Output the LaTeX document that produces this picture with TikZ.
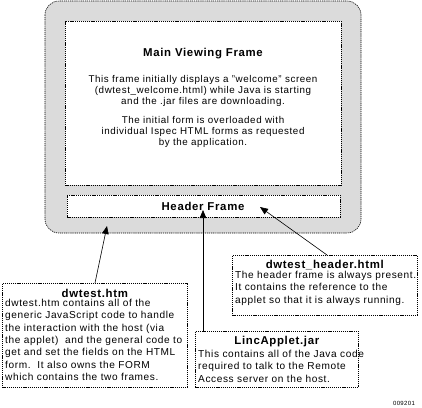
\documentclass[tikz,border=0pt]{standalone}
\usepackage{fontspec}
\setmainfont{Liberation Sans}[LetterSpace=6]
\usetikzlibrary{arrows.meta,calc}
\begin{document}
\begin{tikzpicture}[x=1pt,y=-1pt,
  dashb/.style={draw=black,line width=0.6pt,dash pattern=on 1.2pt off 0.9pt},
  boxn/.style={dashb,fill=white,rectangle,inner sep=0pt,anchor=north west},
  ttl/.style={font=\fontsize{11.4}{13}\selectfont\bfseries,inner sep=0pt},
  bodyn/.style={font=\fontsize{10.1}{12.3}\selectfont,inner sep=0pt,align=left,anchor=north west},
  mtext/.style={font=\fontsize{9.8}{11}\selectfont,inner sep=0pt,align=center},
  arr/.style={line width=0.6pt,-{Triangle[length=8pt,width=6.5pt]}}]
\useasboundingbox (0,0) rectangle (422,407);
% outer bezel
\draw[dashb,fill=gray!28,rounded corners=14pt] (45,1) rectangle (361,233);
\node[boxn,minimum width=276,minimum height=164] (main) at (65,21) {};
\node[boxn,minimum width=273,minimum height=22] (hdr) at (67,195) {};
\node[ttl] (mainT) at (203,54) {Main Viewing Frame};
\node[mtext] (mainB1) at (203,91) {This frame initially displays a "welcome" screen\\(dwtest\_welcome.html) while Java is starting\\and the .jar files are downloading.};
\node[mtext] (mainB2) at (203,132) {The initial form is overloaded with\\individual Ispec HTML forms as requested\\by the application.};
\node[ttl] (hdrT) at (203,206) {Header Frame};
% boxes
\node[boxn,minimum width=185,minimum height=104] (htm) at (2,283) {};
\node[ttl] (htmT) at ($(htm.north)+(0,10)$) {dwtest.htm};
\node[bodyn] (htmB) at ($(htm.north west)+(3,16)$) {dwtest.htm contains all of the\\generic JavaScript code to handle\\the interaction with the host (via\\the applet)\ \ and the general code to\\get and set the fields on the HTML\\form.\ \ It also owns the FORM\\which contains the two frames.};
\node[boxn,minimum width=185,minimum height=60] (hh) at (232,255) {};
\node[ttl] (hhT) at ($(hh.north)+(0,10)$) {dwtest\_header.html};
\node[bodyn] (hhB) at ($(hh.north west)+(3,16)$) {The header frame is always present.\\It contains the reference to the\\applet so that it is always running.};
\node[boxn,minimum width=163,minimum height=56] (jar) at (195,331) {};
\node[ttl] (jarT) at ($(jar.north)+(0,11)$) {LincApplet.jar};
\node[bodyn] (jarB) at ($(jar.north west)+(3,19)$) {This contains all of the Java code\\required to talk to the Remote\\Access server on the host.};
\node[font=\fontsize{6}{7}\selectfont,inner sep=0pt] (code) at (404,403) {009201};
% arrows
\coordinate (t1) at (107,226);
\coordinate (t2) at (203,210);
\coordinate (t3) at (260,207);
\draw[arr] ($(htm.north west)+(93,0)$) -- (t1);
\draw[arr] ($(jar.north west)+(8,0)$) -- (t2);
\draw[arr] ($(hh.north west)+(95,0)$) -- (t3);
\end{tikzpicture}
\end{document}
